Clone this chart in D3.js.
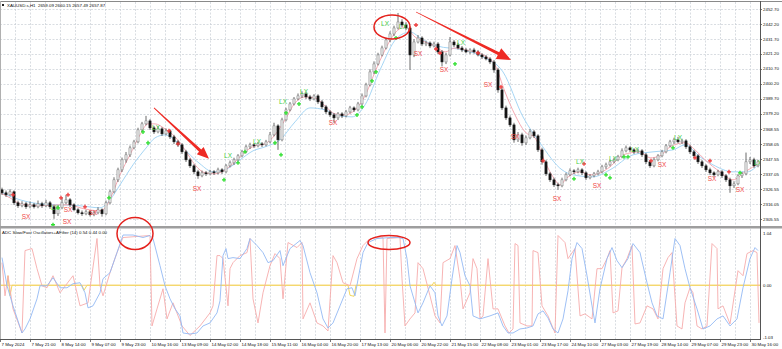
<!DOCTYPE html>
<html>
<head>
<meta charset="utf-8">
<script src="https://cdnjs.cloudflare.com/ajax/libs/d3/7.8.5/d3.min.js"></script>
<style>
  body { margin: 0; background: #fff; }
  svg { display: block; font-family: 'Liberation Sans', Arial, sans-serif; }
</style>
</head>
<body>
<script>
// ---- chart values ----
var symbolTitle = 'XAUUSD.s,H1  2659.09 2660.15 2657.49 2657.87';
var oscTitle = 'ADC Slow/Fast Oscillators+AFilter (14) 0.54 0.44 0.00';

var priceTicks = [2452.70, 2442.20, 2431.70, 2421.20, 2410.70, 2400.20, 2389.70, 2379.20,
  2368.55, 2358.05, 2347.55, 2337.05, 2326.55, 2316.05, 2305.55];
var oscTicks = [1.04, 0.00, -1.03];

var timeLabels = ['7 May 2024', '7 May 21:00', '8 May 14:00', '9 May 07:00', '9 May 23:00',
  '10 May 16:00', '13 May 09:00', '14 May 02:00', '14 May 18:00', '15 May 11:00', '16 May 04:00',
  '16 May 20:00', '17 May 13:00', '20 May 06:00', '20 May 22:00', '21 May 15:00', '22 May 08:00',
  '23 May 01:00', '23 May 17:00', '24 May 10:00', '27 May 03:00', '27 May 19:00', '28 May 14:00',
  '29 May 07:00', '29 May 23:00', '30 May 16:00'];
var hoursPerLabel = 15;
var hoursPerCandle = 2;

var candleOpen = [
  2326.0,2323.9,2322.5,2324.6,2316.9,2314.8,2316.2,2314.1,2315.5,2314.1,
  2316.2,2314.8,2316.9,2314.1,2309.2,2313.4,2316.9,2319.0,2315.5,2312.0,
  2309.9,2309.2,2310.6,2308.5,2309.9,2312.0,2309.2,2316.9,2324.6,2333.0,
  2340.0,2347.0,2350.5,2355.4,2359.6,2368.0,2372.2,2374.3,2369.4,2366.6,
  2368.7,2365.2,2367.3,2363.1,2359.6,2357.5,2352.6,2347.0,2342.8,2338.6,
  2335.8,2337.9,2337.2,2338.6,2337.9,2340.0,2338.6,2342.8,2344.9,2347.0,
  2349.8,2352.6,2356.1,2357.5,2356.8,2358.2,2357.5,2359.6,2364.5,2370.8,
  2361.0,2375.0,2382.0,2386.2,2389.7,2391.8,2393.2,2391.1,2389.7,2391.8,
  2387.6,2384.1,2380.6,2378.5,2376.4,2379.2,2377.8,2380.6,2383.4,2382.0,
  2386.2,2391.8,2399.5,2408.6,2414.2,2420.5,2425.4,2431.0,2435.2,2439.4,
  2443.6,2441.5,2439.4,2420.5,2429.6,2432.4,2428.2,2428.9,2426.8,2428.2,
  2422.6,2415.6,2420.5,2429.6,2427.5,2425.4,2424.0,2422.6,2424.0,2422.6,
  2420.5,2419.1,2417.7,2415.6,2410.0,2396.0,2383.4,2376.4,2371.5,2361.0,
  2364.5,2358.9,2362.4,2366.6,2363.8,2354.0,2345.6,2337.2,2333.0,2329.5,
  2328.8,2333.0,2336.5,2339.3,2338.6,2340.0,2337.9,2334.4,2335.8,2337.2,
  2338.6,2342.1,2343.5,2345.6,2347.0,2349.1,2353.3,2355.4,2354.0,2352.6,
  2353.3,2350.5,2345.6,2342.8,2347.0,2349.8,2352.6,2356.8,2359.6,2361.0,
  2359.6,2360.3,2356.1,2352.6,2349.8,2345.6,2342.8,2340.0,2337.9,2336.5,
  2338.6,2335.8,2333.0,2328.8,2330.2,2335.8,2337.2,2345.6,2347.0,2342.8];

var candleHigh = [
  2327.5,2325.5,2326.4,2325.6,2318.4,2318.0,2317.5,2317.8,2316.8,2318.5,
  2317.6,2319.0,2318.2,2315.5,2315.0,2320.5,2322.5,2320.2,2316.6,2313.2,
  2311.5,2312.0,2311.6,2311.3,2313.8,2313.0,2318.5,2326.0,2334.8,2341.5,
  2348.6,2352.5,2357.0,2361.0,2369.5,2373.6,2377.8,2375.5,2370.8,2370.5,
  2369.9,2369.0,2368.5,2364.5,2361.0,2358.8,2354.0,2348.2,2344.0,2340.0,
  2339.5,2339.2,2340.0,2339.8,2341.5,2341.2,2344.0,2346.5,2348.5,2351.0,
  2354.0,2357.5,2359.0,2358.6,2359.6,2359.5,2361.0,2366.5,2373.0,2372.0,
  2376.5,2383.5,2387.5,2391.0,2393.5,2395.0,2394.5,2392.5,2393.0,2393.0,
  2389.0,2385.5,2382.0,2379.8,2380.5,2380.4,2382.0,2384.8,2384.5,2387.6,
  2393.5,2401.0,2410.5,2416.0,2422.0,2427.0,2432.5,2437.0,2441.0,2449.9,
  2445.5,2443.5,2440.5,2431.5,2434.5,2433.6,2430.5,2430.0,2429.8,2429.5,
  2424.0,2422.0,2433.1,2431.0,2429.0,2426.8,2425.5,2425.2,2425.5,2424.0,
  2421.8,2420.5,2419.0,2417.0,2411.5,2398.0,2385.0,2378.0,2373.0,2366.5,
  2366.0,2364.0,2368.5,2368.0,2365.0,2355.5,2347.0,2338.5,2334.5,2331.0,
  2334.5,2338.0,2341.0,2340.5,2341.5,2341.2,2339.0,2337.0,2338.5,2340.0,
  2343.5,2345.0,2347.0,2348.5,2350.5,2355.0,2357.0,2356.5,2355.2,2354.8,
  2354.5,2351.8,2347.0,2348.5,2351.0,2354.0,2358.0,2361.0,2362.5,2363.1,
  2361.8,2361.5,2357.5,2354.0,2351.0,2347.0,2344.0,2341.5,2339.0,2340.0,
  2339.8,2337.0,2334.5,2332.0,2337.0,2338.6,2352.1,2349.0,2348.5,2347.0];

var candleLow = [
  2322.4,2321.0,2321.5,2315.4,2313.3,2313.8,2312.6,2313.1,2312.9,2313.1,
  2313.3,2313.8,2312.6,2305.7,2307.7,2312.4,2315.9,2314.0,2311.0,2308.7,
  2307.7,2308.2,2307.3,2307.5,2308.9,2307.2,2308.2,2315.9,2323.6,2331.5,
  2338.5,2345.0,2349.0,2354.4,2358.6,2366.5,2371.2,2367.9,2365.1,2365.6,
  2363.7,2364.2,2361.6,2358.1,2356.0,2351.1,2345.5,2341.3,2337.1,2333.7,
  2334.8,2335.7,2336.2,2336.4,2336.9,2337.1,2337.6,2341.8,2343.4,2346.0,
  2348.8,2351.6,2354.6,2355.3,2355.8,2356.0,2356.5,2358.6,2363.5,2354.0,
  2360.0,2374.0,2381.0,2385.2,2388.7,2390.3,2389.6,2388.2,2388.7,2386.1,
  2382.6,2379.1,2377.0,2372.9,2374.9,2376.3,2376.8,2379.6,2380.5,2381.0,
  2385.2,2390.8,2398.5,2407.1,2413.2,2419.5,2424.4,2429.5,2433.7,2438.4,
  2440.0,2437.9,2410.0,2419.0,2428.6,2426.7,2426.7,2425.3,2425.8,2421.1,
  2412.5,2414.1,2419.5,2426.0,2424.4,2422.5,2421.6,2421.1,2421.6,2419.5,
  2417.6,2416.7,2414.1,2408.0,2394.0,2381.9,2374.9,2370.0,2359.0,2359.5,
  2356.9,2357.4,2361.4,2362.3,2352.5,2343.6,2335.7,2331.5,2328.0,2326.0,
  2327.8,2332.0,2335.5,2337.1,2337.6,2336.4,2332.9,2333.4,2334.8,2336.2,
  2337.6,2340.6,2342.5,2344.6,2346.0,2348.1,2352.3,2352.5,2351.1,2351.6,
  2349.0,2344.1,2341.3,2341.8,2346.0,2348.8,2351.6,2355.8,2358.1,2358.6,
  2358.1,2354.6,2351.1,2348.3,2344.1,2341.3,2338.5,2336.4,2335.0,2335.5,
  2334.3,2331.5,2323.9,2327.3,2329.2,2334.3,2336.2,2344.1,2341.3,2341.8];

var candleClose = [
  2323.9,2322.5,2324.6,2316.9,2314.8,2316.2,2314.1,2315.5,2314.1,2316.2,
  2314.8,2316.9,2314.1,2309.2,2313.4,2316.9,2319.0,2315.5,2312.0,2309.9,
  2309.2,2310.6,2308.5,2309.9,2312.0,2309.2,2316.9,2324.6,2333.0,2340.0,
  2347.0,2350.5,2355.4,2359.6,2368.0,2372.2,2374.3,2369.4,2366.6,2368.7,
  2365.2,2367.3,2363.1,2359.6,2357.5,2352.6,2347.0,2342.8,2338.6,2335.8,
  2337.9,2337.2,2338.6,2337.9,2340.0,2338.6,2342.8,2344.9,2347.0,2349.8,
  2352.6,2356.1,2357.5,2356.8,2358.2,2357.5,2359.6,2364.5,2370.8,2361.0,
  2375.0,2382.0,2386.2,2389.7,2391.8,2393.2,2391.1,2389.7,2391.8,2387.6,
  2384.1,2380.6,2378.5,2376.4,2379.2,2377.8,2380.6,2383.4,2382.0,2386.2,
  2391.8,2399.5,2408.6,2414.2,2420.5,2425.4,2431.0,2435.2,2439.4,2443.6,
  2441.5,2439.4,2420.5,2429.6,2432.4,2428.2,2428.9,2426.8,2428.2,2422.6,
  2415.6,2420.5,2429.6,2427.5,2425.4,2424.0,2422.6,2424.0,2422.6,2420.5,
  2419.1,2417.7,2415.6,2410.0,2396.0,2383.4,2376.4,2371.5,2361.0,2364.5,
  2358.9,2362.4,2366.6,2363.8,2354.0,2345.6,2337.2,2333.0,2329.5,2328.8,
  2333.0,2336.5,2339.3,2338.6,2340.0,2337.9,2334.4,2335.8,2337.2,2338.6,
  2342.1,2343.5,2345.6,2347.0,2349.1,2353.3,2355.4,2354.0,2352.6,2353.3,
  2350.5,2345.6,2342.8,2347.0,2349.8,2352.6,2356.8,2359.6,2361.0,2359.6,
  2360.3,2356.1,2352.6,2349.8,2345.6,2342.8,2340.0,2337.9,2336.5,2338.6,
  2335.8,2333.0,2328.8,2330.2,2335.8,2337.2,2345.6,2347.0,2342.8,2345.6];

// moving averages, [hour, price]
var maFast = [[0,2323.9],[5,2320.4],[10,2316.2],[20,2314.8],[30,2315.5],[35,2315.5],[40,2313.4],
  [50,2311.3],[53,2314.1],[56,2322.5],[60,2336.5],[65,2350.5],[70,2364.5],[74,2372.2],[77.5,2372.2],
  [82.5,2368.7],[87.5,2363.1],[92.5,2354.0],[97.5,2343.5],[102.5,2337.9],[107.5,2337.2],[112.5,2340.0],
  [117.5,2345.6],[122.5,2352.6],[127.5,2356.8],[132.5,2358.2],[137.5,2364.5],[142.5,2375.0],
  [147.5,2386.9],[152.5,2391.1],[157.5,2390.4],[162.5,2384.8],[167.5,2379.2],[172.5,2378.5],
  [177.5,2382.0],[182.5,2391.8],[187.5,2408.6],[192.5,2424.0],[197.5,2435.9],[202.5,2440.1],
  [207.5,2433.1],[212.5,2429.6],[217.5,2426.8],[222.5,2422.6],[227.5,2425.4],[232.5,2424.0],
  [237.5,2422.6],[242.5,2419.8],[247.5,2413.5],[252.5,2394.6],[257.5,2378.5],[262.5,2366.6],
  [267.5,2362.4],[272.5,2345.6],[276.5,2335.1],[280,2329.5],[283.5,2334.4],[290,2338.6],
  [295,2336.5],[300,2337.9],[305,2342.1],[311.5,2350.5],[320,2352.6],[325,2348.4],[330,2349.8],
  [335,2356.1],[342.5,2359.0],[347.5,2354.0],[352.5,2347.0],[360,2338.6],[366.5,2333.0],
  [372.5,2338.6],[380,2344.9]];
var maSlow = [[0,2324.6],[10,2319.0],[20,2316.2],[30,2315.5],[40,2314.8],[50,2313.4],[55,2319.0],
  [60,2329.5],[66.5,2343.5],[73.5,2356.1],[77.5,2362.4],[82.5,2364.5],[88.5,2359.6],[93.5,2352.6],
  [100,2344.2],[106.5,2338.6],[113.5,2340.7],[120,2347.0],[126.5,2353.3],[132.5,2356.1],[140,2361.0],
  [147.5,2373.6],[155,2383.4],[162.5,2382.0],[170,2377.8],[176,2377.1],[182.5,2385.5],[190,2410.0],
  [198.5,2432.4],[205,2436.6],[211.5,2431.0],[218.5,2426.8],[231.5,2424.0],[241.5,2419.1],
  [251.5,2408.6],[261.5,2377.1],[270,2358.9],[281,2340.0],[286.5,2336.5],[296.5,2335.1],
  [305,2340.0],[316.5,2350.5],[326.5,2352.6],[336.5,2354.0],[342.5,2357.5],[350,2349.1],
  [356.5,2343.5],[366.5,2338.6],[373.5,2338.6],[380,2344.9]];

// signal marks, [hour, price]
var lxMarks = [[27.5,2313.4],[78,2369.4],[114,2349.8],[128.5,2359.6],[141.5,2387.6],[152,2394.6],
  [192.5,2442.2],[201.5,2440.1],[230.5,2428.9],[290,2345.6],[306.5,2347.7],[317.5,2354.0],
  [339,2362.4],[379,2344.9]];
var sxMarks = [[13,2307.1],[34,2312.0],[33.5,2303.6],[46.5,2309.9],[98.5,2326.7],[166.5,2372.9],
  [209,2421.2],[222,2410.0],[244,2399.5],[257.5,2363.1],[278.5,2319.7],[298.5,2328.8],
  [331,2343.5],[356,2333.7],[370,2326.0]];
var sellDots = [[6.5,2322.5],[30.5,2320.4],[34,2322.5],[42.5,2314.1],[84.5,2367.3],[89,2358.2],
  [208,2441.5],[218,2424.7],[220,2421.9],[239,2421.9],[250.5,2398.1],[271.5,2346.3],[292,2344.2],
  [325.5,2346.3],[347.5,2348.4],[355,2346.3],[364.5,2338.6]];
var buyDots = [[26.5,2301.5],[29,2313.4],[54.5,2320.4],[71.5,2366.6],[74,2358.9],[112,2333.0],
  [119,2344.9],[122.5,2352.6],[137.5,2358.9],[140.5,2350.5],[143,2379.9],[149.5,2386.2],
  [178.5,2378.5],[181,2384.1],[186,2402.3],[188,2408.6],[198,2432.4],[227.5,2414.2],[287,2333.7],
  [303,2336.5],[305,2334.4],[312,2349.1],[314,2349.1],[336.5,2355.4],[370,2337.9]];

// oscillator, [hour, value]
var oscSlow = [[1,0.55],[3.5,-0.01],[6.5,-0.41],[11,-0.95],[12.5,-0.87],[15,-0.67],[18.5,-0.27],
  [20,-0.01],[23.5,-0.01],[26.5,0.15],[30,-0.05],[33.5,-0.05],[36.5,0.03],[40,0.05],[42.5,-0.15],
  [44,-0.45],[46.5,-0.41],[50,-0.15],[51.5,0.13],[55,0.25],[58.5,0.65],[61.5,1.0],[66.5,1.0],
  [71.5,0.95],[75,0.99],[76.5,0.93],[80,0.39],[82.5,-0.01],[85,-0.27],[87.5,-0.47],[90,-0.61],
  [91.5,-0.95],[95,-0.97],[98.5,-0.95],[101.5,-0.81],[105,-0.75],[108.5,-0.55],[110,-0.31],
  [111.5,0.59],[113,0.73],[114,0.53],[116.5,0.55],[120,0.53],[123.5,0.73],[125,0.93],[128.5,0.79],
  [131.5,0.65],[134,0.45],[136.5,0.49],[140,0.69],[141.5,0.39],[145,0.73],[150,0.89],[151.5,0.79],
  [155,0.25],[158.5,-0.15],[161.5,-0.67],[164,-0.85],[166.5,-0.75],[170,-0.41],[173.5,-0.07],
  [176,-0.05],[177.5,-0.21],[180,0.33],[181.5,0.65],[184,0.85],[188.5,0.93],[195,0.95],[199,0.95],
  [201.5,0.93],[203.5,0.53],[205,-0.01],[207.5,-0.35],[209,-0.55],[211.5,-0.35],[215,-0.01],
  [217.5,-0.15],[219,-0.61],[221,-0.81],[223.5,-0.61],[226,0.13],[228.5,0.79],[230,0.65],
  [232.5,0.19],[235,-0.01],[236.5,-0.61],[240,-0.67],[245,-0.61],[249,-0.55],[251.5,-0.81],
  [254,-0.95],[256.5,-0.95],[260,-0.87],[263.5,-0.85],[266.5,-0.81],[269,-0.57],[271.5,-0.51],
  [274,-0.65],[276.5,-0.87],[279,-0.95],[281.5,-0.67],[284,-0.11],[286,0.53],[288.5,0.85],
  [291,0.73],[293.5,0.19],[296,-0.41],[297.5,-0.75],[300,-0.07],[303.5,0.53],[306,0.75],
  [308.5,0.49],[311,0.35],[314,0.53],[316.5,0.83],[320,0.65],[323.5,0.05],[326,-0.35],
  [328.5,-0.61],[331.5,-0.67],[335,0.25],[337.5,0.93],[340,0.79],[342.5,0.33],[345,-0.05],
  [348.5,-0.47],[351.5,-0.87],[355,-0.81],[358.5,-0.67],[361.5,-0.61],[365,-0.81],[368.5,-0.67],
  [371.5,-0.05],[375,0.53],[377.5,0.75],[379,0.69]];
var oscFast = [[1,0.45],[2.5,-0.21],[4,0.19],[6.5,-0.47],[11,-0.95],[12.5,0.69],[16,0.73],
  [18.5,0.33],[21,-0.01],[23.5,-0.05],[26.5,0.19],[30,-0.15],[36.5,0.19],[40,-0.41],[44,-0.35],
  [48.5,0.93],[50,-0.01],[51.5,-0.21],[55,0.25],[58.5,0.65],[61.5,0.95],[75,0.99],[76,-0.81],
  [78.5,-0.47],[81.5,-0.07],[83.5,-0.67],[86.5,-0.35],[91,-0.81],[95,-1.0],[100,-0.81],
  [105,-0.55],[106.5,-0.41],[108.5,0.59],[110,0.59],[111.5,0.53],[114,-0.41],[115,0.33],
  [116.5,0.45],[120,0.59],[123.5,0.65],[125,0.93],[126.5,-0.27],[129,-0.75],[131.5,-0.15],
  [135,0.39],[137.5,0.63],[140,0.53],[141.5,-0.27],[144,0.85],[148.5,0.75],[151,0.85],
  [151.5,-0.67],[155,-0.35],[158.5,-0.75],[161.5,-0.81],[164,-0.91],[166.5,0.59],[168.5,0.45],
  [171.5,0.05],[175,-0.01],[178.5,0.53],[181.5,0.79],[185,0.93],[191.5,0.95],[192.5,-0.95],
  [193.5,0.93],[200,0.95],[201,0.13],[202.5,-0.81],[205,-0.67],[207.5,-0.55],[209,0.45],
  [211.5,0.33],[215,-0.21],[217.5,-0.61],[220,-0.75],[221.5,0.45],[225,0.53],[227.5,0.79],
  [230,0.13],[231.5,-0.47],[235,-0.15],[236.5,0.53],[238.5,0.33],[240,-0.67],[241.5,-0.61],
  [244,0.53],[246.5,-0.47],[249,-0.47],[252.5,-0.81],[254.5,-0.95],[256.5,-0.87],[257.5,0.83],
  [259,0.79],[260,-0.75],[263.5,-0.81],[266,-0.81],[266.5,0.69],[269,0.65],[271,-0.41],
  [274,-0.61],[277.5,-0.95],[279,0.99],[282.5,0.85],[284,0.53],[287.5,0.73],[290,-0.61],
  [292.5,-0.57],[296,-0.67],[298.5,0.33],[301,0.33],[303.5,0.53],[305,0.69],[306.5,-0.55],
  [309,-0.51],[311,0.35],[313.5,0.53],[316,0.79],[317.5,-0.77],[320,-0.75],[323.5,-0.41],
  [326.5,-0.47],[329,-0.67],[331.5,0.33],[334,0.55],[336,0.65],[338.5,-0.81],[341,-0.87],
  [342.5,-0.35],[345,-0.05],[346.5,-0.15],[348.5,-0.81],[351,-0.87],[353.5,-0.81],[356,0.83],
  [358.5,0.73],[359,-0.47],[361.5,-0.41],[365,-0.77],[369,0.29],[371.5,0.19],[373.5,0.63],
  [376.5,0.69],[378.5,0.65],[379.5,-0.75]];
var aFilter = [[0,0],[3.5,0],[4,0.19],[5,-0.21],[6,0],[41,0],[42,-0.1],[43.5,0],[174,0],
  [175,-0.2],[177,-0.22],[178,0],[216,0],[217,0.06],[218,0],[380,0]];

// hand-drawn annotations, in data units
var priceEllipses = [{ h: 196, p: 2440.1, rx: 18, ry: 12 }];
var oscEllipses = [{ h: 67.5, v: 1.03, rx: 18, ry: 16 }, { h: 194.5, v: 0.85, rx: 21, ry: 7 }];
var arrows = [
  { h1: 77, p1: 2383.4, h2: 104.5, p2: 2347.7, head: 12, wide: 10 },
  { h1: 208, p1: 2450.6, h2: 255.5, p2: 2417.0, head: 14, wide: 12 }
];

// ---- layout ----
var width = 782, height = 349;
var plotRight = 760;
var mainTop = 2, mainBottom = 226;
var subTop = 229, subBottom = 339;
var smallFont = 4.4;

var svg = d3.select('body').append('svg')
  .attr('width', width)
  .attr('height', height);

var x = d3.scaleLinear().domain([0, 380]).range([0, plotRight]);
var y = d3.scaleLinear().domain([2305.55, 2452.70]).range([219, 9]);
var yOsc = d3.scaleLinear().domain([-1.03, 1.04]).range([337, 233]);

var defs = svg.append('defs');
defs.append('clipPath').attr('id', 'clipMain').append('rect')
  .attr('x', 0).attr('y', mainTop).attr('width', plotRight).attr('height', mainBottom - mainTop);
defs.append('clipPath').attr('id', 'clipSub').append('rect')
  .attr('x', 0).attr('y', subTop).attr('width', plotRight).attr('height', subBottom - subTop);

var main = svg.append('g').attr('clip-path', 'url(#clipMain)');
var sub = svg.append('g').attr('clip-path', 'url(#clipSub)');

// grid
var gridHours = d3.range(7.5, 380, 7.5);
[main, sub].forEach(function (g, i) {
  g.selectAll('line.vgrid')
    .data(gridHours)
    .enter()
    .append('line')
    .attr('class', 'vgrid')
    .attr('x1', function (d) { return Math.round(x(d)) + 0.5; })
    .attr('x2', function (d) { return Math.round(x(d)) + 0.5; })
    .attr('y1', i === 0 ? mainTop : subTop)
    .attr('y2', i === 0 ? mainBottom : subBottom)
    .attr('stroke', '#c9ced6')
    .attr('stroke-width', 0.7)
    .attr('stroke-dasharray', '2,1.5');
});

main.selectAll('line.hgrid')
  .data(priceTicks)
  .enter()
  .append('line')
  .attr('class', 'hgrid')
  .attr('x1', 0)
  .attr('x2', plotRight)
  .attr('y1', function (d) { return Math.round(y(d)) + 0.5; })
  .attr('y2', function (d) { return Math.round(y(d)) + 0.5; })
  .attr('stroke', '#c9ced6')
  .attr('stroke-width', 0.7)
  .attr('stroke-dasharray', '2,1.5');

// moving averages
var priceLine = d3.line()
  .x(function (d) { return x(d[0]); })
  .y(function (d) { return y(d[1]); })
  .curve(d3.curveMonotoneX);

main.append('path').datum(maSlow)
  .attr('d', priceLine).attr('fill', 'none')
  .attr('stroke', '#a6d6f5').attr('stroke-width', 1);
main.append('path').datum(maFast)
  .attr('d', priceLine).attr('fill', 'none')
  .attr('stroke', '#f5aab3').attr('stroke-width', 1);

// candles
var candles = candleClose.map(function (c, i) {
  return { h: i * hoursPerCandle + hoursPerCandle / 2, o: candleOpen[i], hi: candleHigh[i], lo: candleLow[i], c: c };
});
var bodyW = (x(hoursPerCandle) - x(0)) * 0.55;

main.selectAll('line.wick')
  .data(candles)
  .enter()
  .append('line')
  .attr('class', 'wick')
  .attr('x1', function (d) { return x(d.h); })
  .attr('x2', function (d) { return x(d.h); })
  .attr('y1', function (d) { return y(d.hi); })
  .attr('y2', function (d) { return y(d.lo); })
  .attr('stroke', '#444')
  .attr('stroke-width', 0.8);

main.selectAll('rect.body')
  .data(candles)
  .enter()
  .append('rect')
  .attr('class', 'body')
  .attr('x', function (d) { return x(d.h) - bodyW / 2; })
  .attr('y', function (d) { return y(Math.max(d.o, d.c)); })
  .attr('width', bodyW)
  .attr('height', function (d) { return Math.max(0.8, Math.abs(y(d.o) - y(d.c))); })
  .attr('fill', function (d) { return d.c >= d.o ? '#e4e4e4' : '#151515'; })
  .attr('stroke', function (d) { return d.c >= d.o ? '#808080' : '#151515'; })
  .attr('stroke-width', 0.5);

// dots
var cross = d3.symbol().type(d3.symbolCross).size(9);
main.selectAll('path.sell')
  .data(sellDots)
  .enter()
  .append('path')
  .attr('class', 'sell')
  .attr('d', cross)
  .attr('transform', function (d) { return 'translate(' + x(d[0]) + ',' + y(d[1]) + ')'; })
  .attr('fill', '#f03c3c');
main.selectAll('path.buy')
  .data(buyDots)
  .enter()
  .append('path')
  .attr('class', 'buy')
  .attr('d', cross)
  .attr('transform', function (d) { return 'translate(' + x(d[0]) + ',' + y(d[1]) + ')'; })
  .attr('fill', '#2fe02f');

// LX / SX labels
main.selectAll('text.lx')
  .data(lxMarks)
  .enter()
  .append('text')
  .attr('class', 'lx')
  .attr('x', function (d) { return x(d[0]); })
  .attr('y', function (d) { return y(d[1]); })
  .attr('dy', '0.35em')
  .attr('text-anchor', 'middle')
  .attr('font-size', 6.5)
  .attr('fill', '#46d046')
  .text('LX');
main.selectAll('text.sx')
  .data(sxMarks)
  .enter()
  .append('text')
  .attr('class', 'sx')
  .attr('x', function (d) { return x(d[0]); })
  .attr('y', function (d) { return y(d[1]); })
  .attr('dy', '0.35em')
  .attr('text-anchor', 'middle')
  .attr('font-size', 6.5)
  .attr('fill', '#f04848')
  .text('SX');

// oscillator panel
sub.append('line')
  .attr('x1', 0).attr('x2', plotRight)
  .attr('y1', yOsc(0)).attr('y2', yOsc(0))
  .attr('stroke', '#f8cf78').attr('stroke-width', 1);

var oscLine = d3.line()
  .x(function (d) { return x(d[0]); })
  .y(function (d) { return yOsc(d[1]); });

sub.append('path').datum(aFilter)
  .attr('d', oscLine).attr('fill', 'none')
  .attr('stroke', '#f2d760').attr('stroke-width', 1);
sub.append('path').datum(oscFast)
  .attr('d', oscLine).attr('fill', 'none')
  .attr('stroke', '#f6acac').attr('stroke-width', 0.9);
sub.append('path').datum(oscSlow)
  .attr('d', oscLine).attr('fill', 'none')
  .attr('stroke', '#93b9f4').attr('stroke-width', 0.9);

// frames
svg.append('line').attr('x1', 0).attr('x2', width).attr('y1', 1.5).attr('y2', 1.5)
  .attr('stroke', '#8a8a8a').attr('stroke-width', 1);
svg.append('line').attr('x1', 0.5).attr('x2', 0.5).attr('y1', 1).attr('y2', subBottom)
  .attr('stroke', '#b0b0b0').attr('stroke-width', 1);
svg.append('rect').attr('x', 0).attr('y', mainBottom).attr('width', width).attr('height', 2.5)
  .attr('fill', '#9e9e9e');
svg.append('line').attr('x1', plotRight + 0.5).attr('x2', plotRight + 0.5)
  .attr('y1', 1).attr('y2', subBottom)
  .attr('stroke', '#555').attr('stroke-width', 1);
svg.append('line').attr('x1', 0).attr('x2', plotRight + 1)
  .attr('y1', subBottom + 0.5).attr('y2', subBottom + 0.5)
  .attr('stroke', '#555').attr('stroke-width', 1);

// price axis
var priceAxis = svg.append('g');
priceAxis.selectAll('text')
  .data(priceTicks)
  .enter()
  .append('text')
  .attr('x', plotRight + 3)
  .attr('y', function (d) { return y(d); })
  .attr('dy', '0.35em')
  .attr('font-size', smallFont)
  .attr('fill', '#111')
  .text(function (d) { return d.toFixed(2); });
priceAxis.selectAll('line')
  .data(priceTicks)
  .enter()
  .append('line')
  .attr('x1', plotRight).attr('x2', plotRight + 2)
  .attr('y1', function (d) { return Math.round(y(d)) + 0.5; })
  .attr('y2', function (d) { return Math.round(y(d)) + 0.5; })
  .attr('stroke', '#555').attr('stroke-width', 0.8);

var oscAxis = svg.append('g');
oscAxis.selectAll('text')
  .data(oscTicks)
  .enter()
  .append('text')
  .attr('x', plotRight + 3)
  .attr('y', function (d) { return yOsc(d); })
  .attr('dy', '0.35em')
  .attr('font-size', smallFont)
  .attr('fill', '#111')
  .text(function (d) { return d.toFixed(2); });

// time axis
var timeAxis = svg.append('g');
timeAxis.selectAll('text')
  .data(timeLabels)
  .enter()
  .append('text')
  .attr('x', function (d, i) { return x(i * hoursPerLabel) + 1.5; })
  .attr('y', subBottom + 7)
  .attr('font-size', smallFont)
  .attr('fill', '#111')
  .text(function (d) { return d; });
timeAxis.selectAll('line')
  .data(timeLabels)
  .enter()
  .append('line')
  .attr('x1', function (d, i) { return Math.round(x(i * hoursPerLabel)) + 0.5; })
  .attr('x2', function (d, i) { return Math.round(x(i * hoursPerLabel)) + 0.5; })
  .attr('y1', subBottom).attr('y2', subBottom + 3)
  .attr('stroke', '#555').attr('stroke-width', 0.8);

// titles
svg.append('rect').attr('x', 2).attr('y', 4).attr('width', 2).attr('height', 2).attr('fill', '#222');
svg.append('text').attr('x', 7).attr('y', 7.2)
  .attr('font-size', smallFont).attr('fill', '#111')
  .attr('xml:space', 'preserve').text(symbolTitle);
svg.append('text').attr('x', 2).attr('y', 234)
  .attr('font-size', smallFont).attr('fill', '#111').text(oscTitle);

// annotations
var notes = svg.append('g');
notes.selectAll('ellipse.pe')
  .data(priceEllipses)
  .enter()
  .append('ellipse')
  .attr('cx', function (d) { return x(d.h); })
  .attr('cy', function (d) { return y(d.p); })
  .attr('rx', function (d) { return d.rx; })
  .attr('ry', function (d) { return d.ry; })
  .attr('fill', 'none').attr('stroke', '#e4211c').attr('stroke-width', 1.5);
notes.selectAll('ellipse.oe')
  .data(oscEllipses)
  .enter()
  .append('ellipse')
  .attr('cx', function (d) { return x(d.h); })
  .attr('cy', function (d) { return yOsc(d.v); })
  .attr('rx', function (d) { return d.rx; })
  .attr('ry', function (d) { return d.ry; })
  .attr('fill', 'none').attr('stroke', '#e4211c').attr('stroke-width', 1.5);

var arrowPoints = function (d) {
  var x1 = x(d.h1), y1 = y(d.p1), x2 = x(d.h2), y2 = y(d.p2);
  var dx = x2 - x1, dy = y2 - y1;
  var len = Math.sqrt(dx * dx + dy * dy);
  var ux = dx / len, uy = dy / len, nx = -uy, ny = ux;
  var bx = x2 - ux * d.head, by = y2 - uy * d.head;
  var tail = 0.4, shaft = 1.6, head = d.wide / 2;
  return [
    [x1 + nx * tail, y1 + ny * tail],
    [bx + nx * shaft, by + ny * shaft],
    [bx + nx * head, by + ny * head],
    [x2, y2],
    [bx - nx * head, by - ny * head],
    [bx - nx * shaft, by - ny * shaft],
    [x1 - nx * tail, y1 - ny * tail]
  ].map(function (p) { return p.join(','); }).join(' ');
};

notes.selectAll('polygon')
  .data(arrows)
  .enter()
  .append('polygon')
  .attr('points', arrowPoints)
  .attr('fill', '#ee2a24');
</script>
</body>
</html>
